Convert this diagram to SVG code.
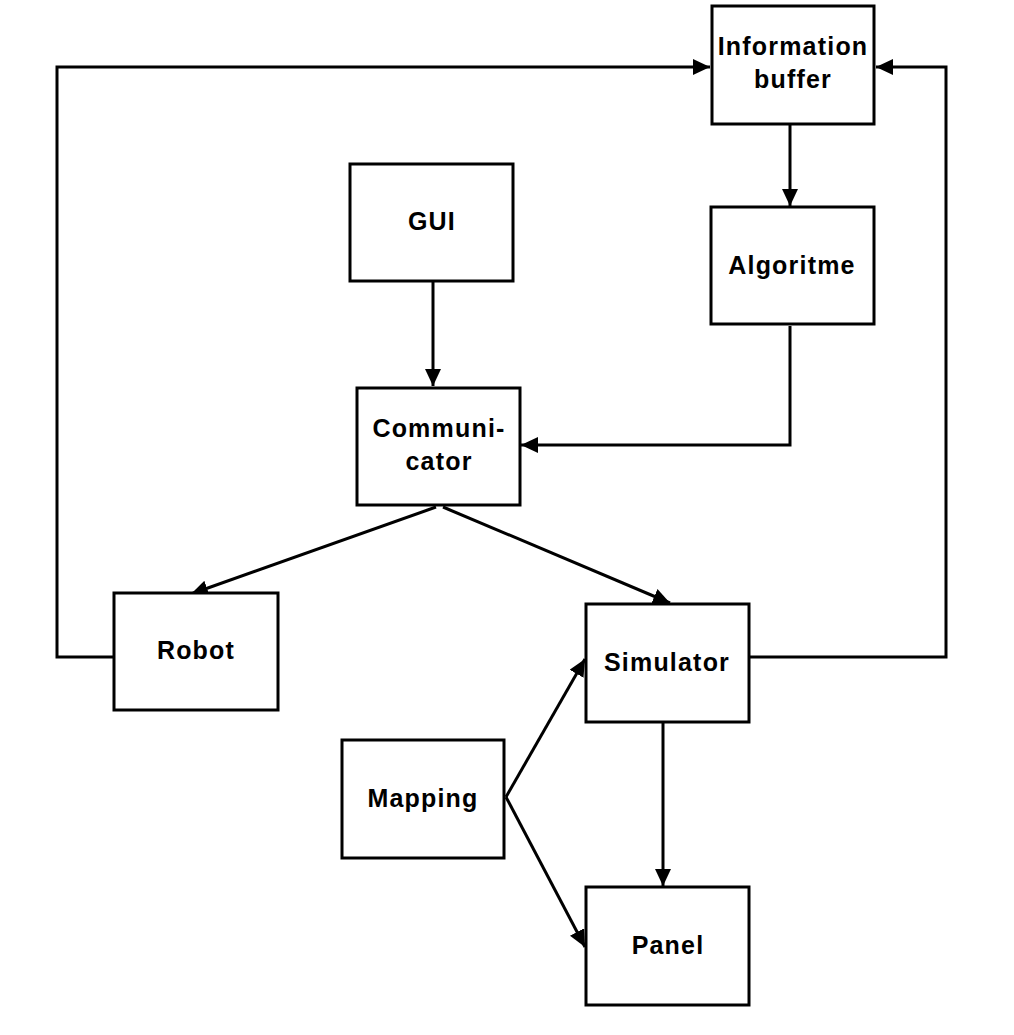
<svg xmlns="http://www.w3.org/2000/svg" width="1014" height="1035" viewBox="0 0 1014 1035">
<style>
.box{fill:#fff;stroke:#000;stroke-width:3}
.lbl{font-family:"Liberation Sans",Arial,sans-serif;font-weight:bold;font-size:25px;letter-spacing:1.2px;text-anchor:middle;fill:#000}
.edge{fill:none;stroke:#000;stroke-width:3}
</style>
<defs>
<marker id="ah" markerUnits="userSpaceOnUse" markerWidth="18" markerHeight="16" refX="17" refY="8" orient="auto">
<path d="M0,0 L17,8 L0,16 Z" fill="#000"/>
</marker>
</defs>
<rect width="1014" height="1035" fill="#fff"/>
<g id="connectors">
<polyline class="edge" points="114,657 57,657 57,67 710,67" marker-end="url(#ah)"/>
<polyline class="edge" points="749,657 946,657 946,67 876,67" marker-end="url(#ah)"/>
<line class="edge" x1="790" y1="125" x2="790" y2="206" marker-end="url(#ah)"/>
<line class="edge" x1="433" y1="282" x2="433" y2="386" marker-end="url(#ah)"/>
<polyline class="edge" points="790,326 790,445 521,445" marker-end="url(#ah)"/>
<line class="edge" x1="436" y1="507" x2="191" y2="594" marker-end="url(#ah)"/>
<line class="edge" x1="443" y1="507" x2="670" y2="603" marker-end="url(#ah)"/>
<line class="edge" x1="506" y1="797" x2="585" y2="659" marker-end="url(#ah)"/>
<line class="edge" x1="506" y1="797" x2="585" y2="947" marker-end="url(#ah)"/>
<line class="edge" x1="663" y1="723" x2="663" y2="886" marker-end="url(#ah)"/>
</g>
<g id="info-buffer"><rect class="box" x="712" y="6" width="162" height="118"/><text class="lbl" x="793" y="55">Information</text><text class="lbl" x="793" y="88">buffer</text></g>
<g id="gui"><rect class="box" x="350" y="164" width="163" height="117"/><text class="lbl" x="432" y="230">GUI</text></g>
<g id="algoritme"><rect class="box" x="711" y="207" width="163" height="117"/><text class="lbl" x="792" y="274">Algoritme</text></g>
<g id="communicator"><rect class="box" x="357" y="388" width="163" height="117"/><text class="lbl" x="439" y="437">Communi-</text><text class="lbl" x="439" y="470">cator</text></g>
<g id="robot"><rect class="box" x="114" y="593" width="164" height="117"/><text class="lbl" x="196" y="659">Robot</text></g>
<g id="simulator"><rect class="box" x="586" y="604" width="163" height="118"/><text class="lbl" x="667" y="671">Simulator</text></g>
<g id="mapping"><rect class="box" x="342" y="740" width="162" height="118"/><text class="lbl" x="423" y="807">Mapping</text></g>
<g id="panel"><rect class="box" x="586" y="887" width="163" height="118"/><text class="lbl" x="668" y="954">Panel</text></g>
</svg>
